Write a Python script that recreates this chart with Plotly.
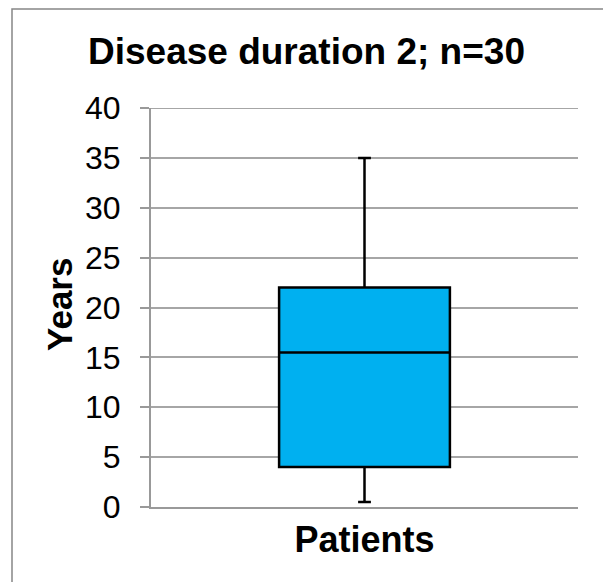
import plotly.graph_objects as go

# Data
categories = ["Patients"]
q1 = [4.0]
median = [15.5]
q3 = [22.0]
lower_whisker = [0.5]
upper_whisker = [35.0]
y_ticks = [0, 5, 10, 15, 20, 25, 30, 35, 40]

FONT = "Liberation Sans, Arial, sans-serif"
W, H = 603, 582
L, R, T, B = 151, 25, 108, 75
PW, PH = W - L - R, H - T - B

fig = go.Figure()
fig.add_trace(go.Box(
    x=categories, q1=q1, median=median, q3=q3,
    lowerfence=lower_whisker, upperfence=upper_whisker,
    fillcolor="#00B0F0", line=dict(color="black", width=2.5),
    width=0.4, whiskerwidth=0.075, boxpoints=False, hoverinfo="skip",
    showlegend=False,
))

y_max = max(y_ticks)

fig.update_layout(
    width=W, height=H,
    margin=dict(l=L, r=R, t=T, b=B),
    paper_bgcolor="white", plot_bgcolor="white",
    font=dict(family=FONT, color="black"),
    title=dict(text="<b>Disease duration 2; n=30</b>", font=dict(size=37, family=FONT, color="black"),
               x=306.5 / W, xanchor="center", xref="container",
               y=1 - 51 / H, yanchor="middle", yref="container"),
    xaxis=dict(
        type="category", range=[-0.5, 0.5],
        showgrid=False, showline=True, linecolor="#999999", linewidth=2,
        ticks="", tickfont=dict(size=36, family=FONT, color="black"),
        tickvals=categories, ticktext=["<b>%s</b>" % c for c in categories],
        zeroline=False,
    ),
    yaxis=dict(
        range=[0, y_max], tickvals=y_ticks, ticktext=[str(v) for v in y_ticks],
        showgrid=True, gridcolor="#a6a6a6", gridwidth=2,
        showline=True, linecolor="#999999", linewidth=2,
        ticks="outside", ticklen=9, tickcolor="#999999", tickwidth=2,
        tickfont=dict(size=32, family=FONT, color="black"),
        ticklabelstandoff=13, zeroline=False,
    ),
    annotations=[dict(
        text="<b>Years</b>", textangle=-90, showarrow=False,
        xref="paper", yref="paper",
        x=(59 - L) / PW, y=(507 - 305) / PH,
        xanchor="center", yanchor="middle",
        font=dict(size=35, family=FONT, color="black"),
    )],
    shapes=[
        dict(
            type="rect", xref="paper", yref="paper",
            x0=(12 - L) / PW, x1=1.3, y0=-0.4, y1=1 + (T - 9) / PH,
            line=dict(color="#868686", width=1.5), fillcolor="rgba(0,0,0,0)", layer="below",
        ),
        # top gridline (plotly omits the gridline on the range edge)
        dict(
            type="line", xref="paper", yref="y", x0=0, x1=1, y0=y_max, y1=y_max,
            line=dict(color="#a6a6a6", width=2), layer="below",
        ),
    ],
)

fig.write_html("out.html")
